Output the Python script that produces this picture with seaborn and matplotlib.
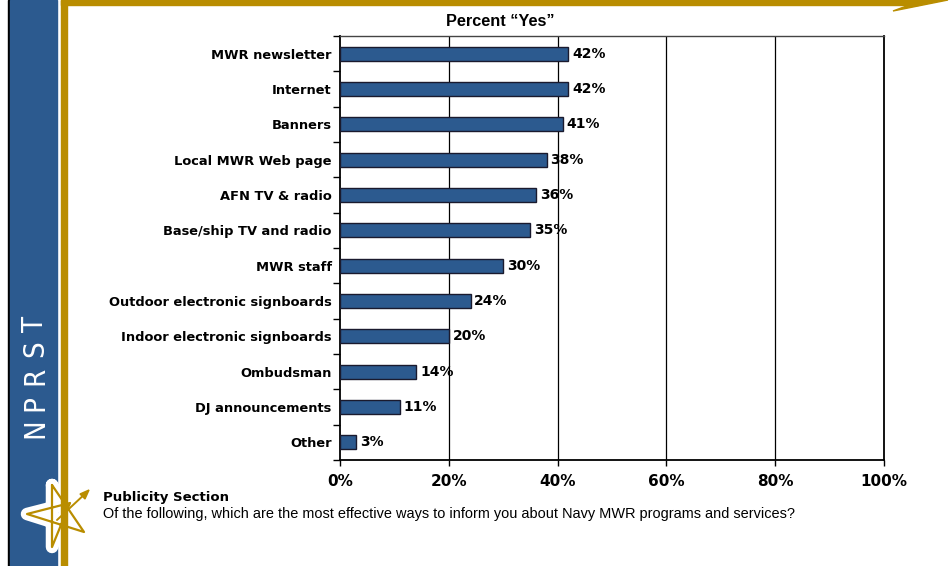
import matplotlib
matplotlib.use("Agg")
import matplotlib.pyplot as plt
import matplotlib.patches as mpatches
import numpy as np
import pandas as pd
import seaborn as sns

categories = ["MWR newsletter", "Internet", "Banners", "Local MWR Web page",
              "AFN TV & radio", "Base/ship TV and radio", "MWR staff",
              "Outdoor electronic signboards", "Indoor electronic signboards",
              "Ombudsman", "DJ announcements", "Other"]
values = [42, 42, 41, 38, 36, 35, 30, 24, 20, 14, 11, 3]
xticks = [0, 20, 40, 60, 80, 100]
xtick_labels = ["0%", "20%", "40%", "60%", "80%", "100%"]
title = "Percent \u201cYes\u201d"
section = "Publicity Section"
question = "Of the following, which are the most effective ways to inform you about Navy MWR programs and services?"
side_letters = ["N", "P", "R", "S", "T"]

sns.set_style("white")
plt.rcParams['font.family'] = ['DejaVu Sans']
plt.rcParams['text.color'] = 'black'
plt.rcParams['xtick.color'] = 'black'
plt.rcParams['ytick.color'] = 'black'
plt.rcParams['axes.labelcolor'] = 'black'

W, H = 952, 566
fig = plt.figure(figsize=(W / 100, H / 100), dpi=100)

BLUE = "#2C5A8F"
GOLD = "#B98D00"

def fx(px):
    return px / W

def fy(py):
    return 1 - py / H

# decorative frame
fig.patches.append(mpatches.Rectangle((fx(8), 0), fx(2), 1, transform=fig.transFigure, color="black", zorder=0))
fig.patches.append(mpatches.Rectangle((fx(10), 0), fx(47), 1, transform=fig.transFigure, color=BLUE, zorder=0))
fig.patches.append(mpatches.Rectangle((fx(61), 0), fx(6), 1, transform=fig.transFigure, color=GOLD, zorder=2))
fig.patches.append(mpatches.Rectangle((fx(61), fy(5)), fx(857), fy(0) - fy(5), transform=fig.transFigure, color=GOLD, zorder=2))
arrow = mpatches.Polygon([(fx(905), fy(0)), (fx(948), fy(0)), (fx(893), fy(11)), (fx(912), fy(4))],
                         closed=True, transform=fig.transFigure, color=GOLD, zorder=2)
fig.patches.append(arrow)

# NPRST vertical text
letter_y = [428, 403, 376, 349, 324]
for ch, yy in zip(side_letters, letter_y):
    fig.text(fx(35), fy(yy), ch, rotation=90, color="white", fontsize=21,
             ha="center", va="center", family="DejaVu Sans", fontweight="light",
             fontstretch="condensed")

# star logo (decoration)
T, R1, BR, BL, L = (52, 485), (70, 503), (84, 532), (52, 547), (27, 514)
path = [T, BR, L, R1, BL, T]
xs = [fx(p[0]) for p in path]
ys = [fy(p[1]) for p in path]
fig.lines.append(plt.Line2D(xs, ys, transform=fig.transFigure, color="white", lw=9,
                            solid_joinstyle="round", solid_capstyle="round", zorder=1))
fig.lines.append(plt.Line2D(xs, ys, transform=fig.transFigure, color=GOLD, lw=1.6, zorder=5))
fig.lines.append(plt.Line2D([fx(57), fx(87)], [fy(520), fy(492)], transform=fig.transFigure,
                            color="white", lw=6, solid_capstyle="round", zorder=1))
fig.lines.append(plt.Line2D([fx(57), fx(87)], [fy(520), fy(492)], transform=fig.transFigure,
                            color=GOLD, lw=1.4, zorder=5))
head = mpatches.Polygon([(fx(89), fy(490)), (fx(80), fy(494)), (fx(85), fy(499))], closed=True,
                        transform=fig.transFigure, color=GOLD, zorder=5)
fig.patches.append(head)

ax = fig.add_axes([fx(340), fy(460), fx(884) - fx(340), fy(36) - fy(460)])
df = pd.DataFrame({"cat": categories, "val": values})
sns.barplot(data=df, y="cat", x="val", orient="h", color=BLUE, width=0.4,
            edgecolor="#1a1a2e", linewidth=1.0, saturation=1, ax=ax, zorder=3)

ax.set_xlim(0, 100)
ax.set_ylim(len(categories) - 0.5, -0.5)
ax.set_xticks(xticks)
ax.set_xticklabels(xtick_labels, fontsize=11, fontweight="bold")
ax.set_yticks(range(len(categories)))
ax.set_yticklabels(categories, fontsize=9.4, fontweight="bold")
ax.tick_params(axis="y", length=0, pad=6)
ax.tick_params(axis="x", length=4, width=1, direction="out", pad=6, color="black", bottom=True)
ax.set_yticks(np.arange(-0.5, len(categories), 1), minor=True)
ax.tick_params(axis="y", which="minor", length=5, width=1, left=True, color="black")
ax.set_xlabel("")
ax.set_ylabel("")
for x in xticks[1:-1]:
    ax.axvline(x, color="black", lw=0.9, zorder=1)
for s in ["left", "bottom", "right"]:
    ax.spines[s].set_color("black")
    ax.spines[s].set_linewidth(1.3)
ax.spines["top"].set_color("#444444")
ax.spines["top"].set_linewidth(1.0)

for i, v in enumerate(values):
    ax.text(v + 0.7, i, f"{v}%", va="center", ha="left", fontsize=10, fontweight="bold", zorder=4)

fig.text(fx(500), fy(21), title, fontsize=11.7, fontweight="bold", ha="center", va="center",
         family="Liberation Sans")

fig.text(fx(103), fy(497), section, fontsize=9.5, fontweight="bold", ha="left", va="center")
fig.text(fx(103), fy(514), question, fontsize=10.45, ha="left", va="center", family="Liberation Sans")

fig.savefig("out.png", dpi=100)
